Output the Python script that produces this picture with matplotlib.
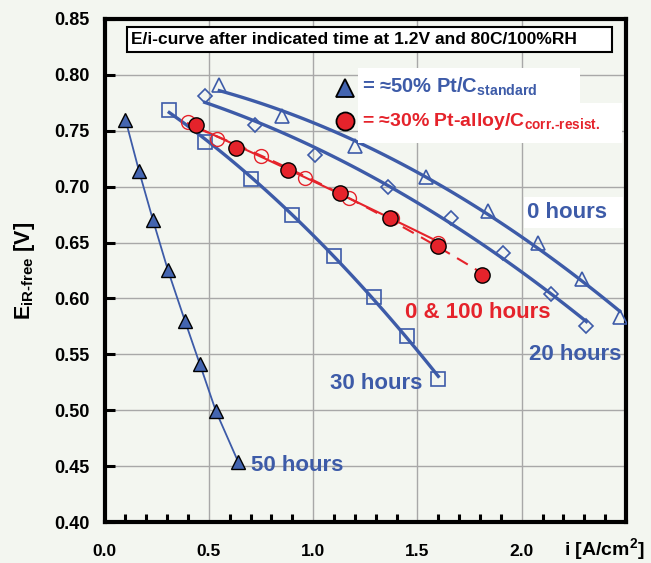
import numpy as np
import matplotlib
matplotlib.use("Agg")
import matplotlib.pyplot as plt
from matplotlib.patches import Rectangle
from matplotlib.ticker import MultipleLocator

plt.rcParams["font.family"] = ["Liberation Sans", "DejaVu Sans"]
plt.rcParams["font.weight"] = "bold"
plt.rcParams["mathtext.fontset"] = "custom"
plt.rcParams["mathtext.rm"] = "Liberation Sans:bold"
plt.rcParams["mathtext.bf"] = "Liberation Sans:bold"
plt.rcParams["mathtext.default"] = "bf"

BLUE = "#3d5ba8"
BLUE_FILL = "#4465b0"
RED = "#e5232b"
BG = "#f3f6f0"

# Pt/C standard, after 0 / 20 / 30 / 50 hours
i_0h = [0.55, 0.85, 1.20, 1.54, 1.84, 2.08, 2.29, 2.47]
e_0h = [0.791, 0.763, 0.736, 0.709, 0.678, 0.650, 0.617, 0.583]
i_20h = [0.48, 0.72, 1.01, 1.36, 1.66, 1.91, 2.14, 2.31]
e_20h = [0.781, 0.755, 0.728, 0.700, 0.672, 0.641, 0.604, 0.575]
i_30h = [0.31, 0.48, 0.70, 0.90, 1.10, 1.29, 1.45, 1.60]
e_30h = [0.769, 0.740, 0.707, 0.675, 0.638, 0.601, 0.566, 0.528]
i_50h = [0.10, 0.165, 0.232, 0.304, 0.385, 0.457, 0.534, 0.640]
e_50h = [0.760, 0.714, 0.670, 0.625, 0.580, 0.541, 0.499, 0.454]

# Pt-alloy/C corrosion resistant, after 0 and 100 hours
i_alloy_0h = [0.44, 0.63, 0.88, 1.13, 1.37, 1.60, 1.81]
e_alloy_0h = [0.755, 0.735, 0.715, 0.694, 0.672, 0.647, 0.621]
i_alloy_100h = [0.40, 0.54, 0.75, 0.96, 1.17, 1.38, 1.60]
e_alloy_100h = [0.758, 0.743, 0.727, 0.708, 0.690, 0.672, 0.650]

x_ticks = [0.0, 0.5, 1.0, 1.5, 2.0, 2.5]
x_ticklabels = ["0.0", "0.5", "1.0", "1.5", "2.0", ""]
y_ticks = [0.40, 0.45, 0.50, 0.55, 0.60, 0.65, 0.70, 0.75, 0.80, 0.85]


def trend(x, y, deg=2):
    c = np.polyfit(x, y, deg)
    xs = np.linspace(min(x), max(x), 100)
    return xs, np.polyval(c, xs)


def white_box(ax, x0, y0, x1, y1, ec="none", lw=0):
    ax.add_patch(Rectangle((x0, y0), x1 - x0, y1 - y0, transform=ax.transAxes,
                           fc="white", ec=ec, lw=lw, zorder=5.5, clip_on=False))


fig = plt.figure(figsize=(6.51, 5.63), dpi=100, facecolor=BG)
ax = fig.add_axes([0.1607, 0.0728, 0.8009, 0.8935])
ax.set_facecolor(BG)

for x, y, mk in [(i_0h, e_0h, "^"), (i_20h, e_20h, "D"), (i_30h, e_30h, "s")]:
    ax.plot(*trend(x, y), color=BLUE, lw=2.4, zorder=3)
    ax.plot(x, y, ls="none", marker=mk, ms=10 if mk != "D" else 7.5,
            mfc="none", mec=BLUE, mew=1.2, zorder=4)

ax.plot(i_50h, e_50h, color=BLUE, lw=1.3, zorder=3)
ax.plot(i_50h, e_50h, ls="none", marker="^", ms=10, mfc=BLUE_FILL,
        mec="black", mew=1.0, zorder=5)

ax.plot(*trend(i_alloy_100h, e_alloy_100h), color=RED, lw=1.5, zorder=3)
ax.plot(i_alloy_100h, e_alloy_100h, ls="none", marker="o", ms=10,
        mfc="none", mec=RED, mew=1.0, zorder=4)
ax.plot(*trend(i_alloy_0h, e_alloy_0h), color=RED, lw=1.5, ls=(0, (6, 4)), zorder=3)
ax.plot(i_alloy_0h, e_alloy_0h, ls="none", marker="o", ms=11, mfc=RED,
        mec="black", mew=1.0, zorder=5)

ax.set_xlim(0, 2.5)
ax.set_ylim(0.40, 0.85)
ax.set_xticks(x_ticks)
ax.set_xticklabels(x_ticklabels)
ax.xaxis.set_minor_locator(MultipleLocator(0.1))
ax.set_yticks(y_ticks)
ax.set_yticklabels([f"{v:.2f}" for v in y_ticks])
ax.grid(True, color="#a8a8a8", lw=1.0, zorder=0)
ax.tick_params(axis="both", which="major", direction="in", length=7, width=2.2)
ax.tick_params(axis="x", which="major", pad=16, length=0, labelsize=12.5)
ax.tick_params(axis="x", which="minor", direction="in", length=6, width=2.2)
ax.tick_params(axis="y", which="major", pad=11, labelsize=13)
for s in ax.spines.values():
    s.set_linewidth(3)
    s.set_color("black")
for lab in ax.get_xticklabels() + ax.get_yticklabels():
    lab.set_fontweight("bold")

# title box
white_box(ax, 0.043, 0.934, 0.973, 0.984, ec="black", lw=1.5)
ax.text(0.051, 0.959, "E/i-curve after indicated time at 1.2V and 80C/100%RH",
        transform=ax.transAxes, ha="left", va="center", fontsize=12.5, zorder=6)

# legend
white_box(ax, 0.486, 0.833, 0.912, 0.903)
white_box(ax, 0.486, 0.753, 0.993, 0.833)
ax.plot(0.461, 0.863, transform=ax.transAxes, marker="^", ms=13, mfc=BLUE_FILL,
        mec="black", mew=1.3, clip_on=False, zorder=6)
ax.text(0.494, 0.865, r"= ≈50% Pt/C$_{standard}$", transform=ax.transAxes,
        ha="left", va="center", fontsize=14.5, color=BLUE, zorder=6)
ax.plot(0.461, 0.797, transform=ax.transAxes, marker="o", ms=13, mfc=RED,
        mec="black", mew=1.3, clip_on=False, zorder=6)
ax.text(0.494, 0.797, r"= ≈30% Pt-alloy/C$_{\text{corr.-resist.}}$",
        transform=ax.transAxes, ha="left", va="center", fontsize=14, color=RED,
        zorder=6)

# curve labels
white_box(ax, 0.805, 0.584, 0.995, 0.646)
ax.text(2.216, 0.677, "0 hours", ha="center", va="center", fontsize=16,
        color=BLUE, zorder=6)
ax.text(2.256, 0.550, "20 hours", ha="center", va="center", fontsize=16,
        color=BLUE, zorder=6)
ax.text(1.30, 0.524, "30 hours", ha="center", va="center", fontsize=16,
        color=BLUE, zorder=6)
ax.text(0.70, 0.451, "50 hours", ha="left", va="center", fontsize=16,
        color=BLUE, zorder=6)
ax.text(1.79, 0.587, "0 & 100 hours", ha="center", va="center", fontsize=16,
        color=RED, zorder=6)

fig.text(0.038, 0.519, r"E$_{\text{iR-free}}$ [V]", rotation=90, ha="center",
         va="center", fontsize=15.5)
fig.text(0.928, 0.024, r"i [A/cm$^{2}$]", ha="center", va="center", fontsize=14)

fig.savefig("out.png", dpi=100, facecolor=BG)
